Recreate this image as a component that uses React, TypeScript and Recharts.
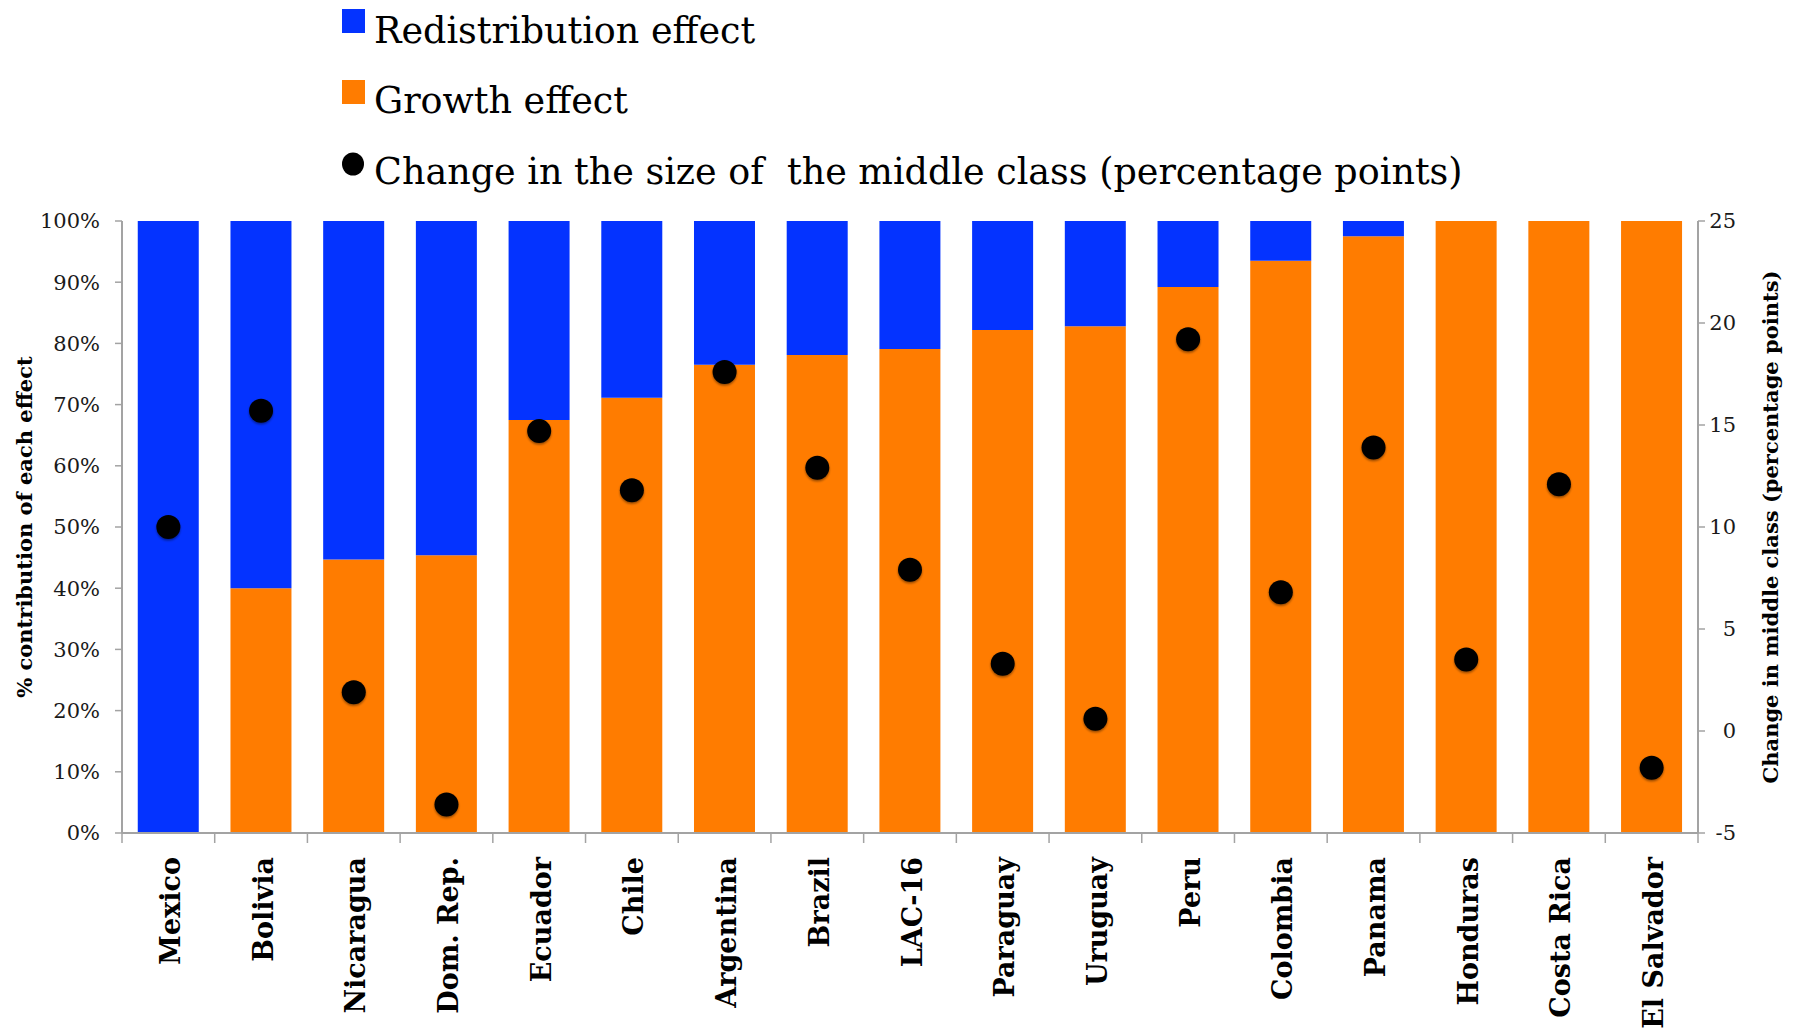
import React from 'react';
import { ComposedChart, Bar, Scatter, XAxis, YAxis, Legend } from 'recharts';

const categories = ['Mexico', 'Bolivia', 'Nicaragua', 'Dom. Rep.', 'Ecuador', 'Chile', 'Argentina', 'Brazil', 'LAC-16', 'Paraguay', 'Uruguay', 'Peru', 'Colombia', 'Panama', 'Honduras', 'Costa Rica', 'El Salvador'];
const growthEffect = [0, 40.0, 44.7, 45.4, 67.5, 71.1, 76.5, 78.1, 79.1, 82.2, 82.8, 89.2, 93.5, 97.5, 100, 100, 100];
const redistributionEffect = [100, 60.0, 55.3, 54.6, 32.5, 28.9, 23.5, 21.9, 20.9, 17.8, 17.2, 10.8, 6.5, 2.5, 0, 0, 0];
const middleClassChange = [10.0, 15.7, 1.9, -3.6, 14.7, 11.8, 17.6, 12.9, 7.9, 3.3, 0.6, 19.2, 6.8, 13.9, 3.5, 12.1, -1.8];
const leftTicks = [0, 10, 20, 30, 40, 50, 60, 70, 80, 90, 100];
const rightTicks = [-5, 0, 5, 10, 15, 20, 25];
const legendLabels = ['Redistribution effect', 'Growth effect', 'Change in the size of\u00a0 the middle class (percentage points)'];

const data = categories.map((name, i) => ({
  name,
  growth: growthEffect[i],
  redistribution: redistributionEffect[i],
  change: middleClassChange[i],
}));

const BLUE = '#0433FF';
const ORANGE = '#FF7C00';
const AXIS = '#A3A3A3';
const FONT = '"DejaVu Serif", serif';
const W = 1799;
const H = 1034;

const XTick = (props: any) => {
  const { x, y, payload, index, visibleTicksCount } = props;
  const half = payload && typeof payload.offset === 'number' && payload.offset > 0 ? payload.offset : 1576 / categories.length / 2;
  const last = index === (visibleTicksCount ?? categories.length) - 1;
  return (
    <g>
      <line x1={x - half} x2={x - half} y1={y} y2={y + 10} stroke={AXIS} strokeWidth={1.5} />
      {last && <line x1={x + half} x2={x + half} y1={y} y2={y + 10} stroke={AXIS} strokeWidth={1.5} />}
      <text
        transform={`translate(${x + 2},${y + 24}) rotate(-90)`}
        textAnchor="end"
        dominantBaseline="central"
        fontFamily={FONT}
        fontWeight="bold"
        fontSize={27}
        fill="#000"
      >
        {payload.value}
      </text>
    </g>
  );
};

const RightTick = (props: any) => {
  const { x, y, payload } = props;
  return (
    <text x={x} y={y} textAnchor="end" dominantBaseline="central" fontFamily={FONT} fontSize={21} fill="#1a1a1a">
      {payload.value}
    </text>
  );
};

const LeftLabel = (props: any) => {
  const vb = props.viewBox || {};
  const cx = vb.x + 24;
  const cy = vb.y + vb.height / 2;
  return (
    <text transform={`translate(${cx},${cy}) rotate(-90)`} textAnchor="middle" dominantBaseline="central" fontFamily={FONT} fontWeight="bold" fontSize={21} fill="#000">
      % contribution of  each effect
    </text>
  );
};

const RightLabel = (props: any) => {
  const vb = props.viewBox || {};
  const cx = vb.x + 72;
  const cy = vb.y + vb.height / 2;
  return (
    <text transform={`translate(${cx},${cy}) rotate(-90)`} textAnchor="middle" dominantBaseline="central" fontFamily={FONT} fontWeight="bold" fontSize={21} fill="#000">
      Change in middle class (percentage points)
    </text>
  );
};

const Dot = (props: any) => {
  const { cx, cy } = props;
  if (cx == null || cy == null) return null;
  return <circle cx={cx} cy={cy} r={12} fill="#000" filter="url(#dotShadow)" />;
};

const LegendBlock = () => (
  <svg width={W} height={200} style={{ display: 'block' }}>
    <rect x={342} y={9} width={23} height={24} fill={BLUE} />
    <text x={374} y={43} fontFamily={FONT} fontSize={36.5} fill="#000">{legendLabels[0]}</text>
    <rect x={342} y={80} width={23} height={24} fill={ORANGE} />
    <text x={374} y={113} fontFamily={FONT} fontSize={36.5} fill="#000">{legendLabels[1]}</text>
    <ellipse cx={353} cy={164} rx={11} ry={11.5} fill="#000" />
    <text x={374} y={184} fontFamily={FONT} fontSize={36.5} fill="#000">{legendLabels[2]}</text>
  </svg>
);

export default function App() {
  return (
    <div style={{ position: 'absolute', left: 0, top: 0, width: W, height: H, background: '#fff' }}>
      <svg width={0} height={0} style={{ position: 'absolute' }}>
        <defs>
          <filter id="dotShadow" x="-50%" y="-50%" width="200%" height="200%">
            <feDropShadow dx="0" dy="1.5" stdDeviation="1.2" floodColor="#000" floodOpacity="0.45" />
          </filter>
        </defs>
      </svg>
      <ComposedChart width={W} height={H} data={data} margin={{ top: 221, right: 0, bottom: 0, left: 0 }} barCategoryGap="17%">
        <Legend
          layout="vertical"
          align="center"
          verticalAlign="middle"
          content={() => <LegendBlock />}
          wrapperStyle={{ position: 'absolute', left: 0, top: 0, width: W, height: 200 }}
        />
        <XAxis
          dataKey="name"
          interval={0}
          height={201}
          tickSize={0}
          tickMargin={0}
          tickLine={false}
          axisLine={{ stroke: AXIS, strokeWidth: 2 }}
          tick={<XTick />}
        />
        <YAxis
          yAxisId="left"
          orientation="left"
          width={122}
          domain={[0, 100]}
          ticks={leftTicks}
          interval={0}
          allowDataOverflow
          tickFormatter={(v: number) => `${v}%`}
          tickSize={7}
          tickMargin={15}
          tickLine={{ stroke: AXIS, strokeWidth: 1.5 }}
          axisLine={{ stroke: AXIS, strokeWidth: 2 }}
          tick={{ fontFamily: FONT, fontSize: 21, fill: '#1a1a1a' }}
          label={<LeftLabel />}
        />
        <YAxis
          yAxisId="right"
          orientation="right"
          width={101}
          domain={[-5, 25]}
          ticks={rightTicks}
          interval={0}
          allowDataOverflow
          tickSize={7}
          tickMargin={31}
          tickLine={{ stroke: AXIS, strokeWidth: 1.5 }}
          axisLine={{ stroke: AXIS, strokeWidth: 2 }}
          tick={<RightTick />}
          label={<RightLabel />}
        />
        <Bar yAxisId="left" dataKey="growth" stackId="effects" fill={ORANGE} isAnimationActive={false} />
        <Bar yAxisId="left" dataKey="redistribution" stackId="effects" fill={BLUE} isAnimationActive={false} />
        <Scatter yAxisId="right" dataKey="change" fill="#000" shape={<Dot />} isAnimationActive={false} />
      </ComposedChart>
    </div>
  );
}
